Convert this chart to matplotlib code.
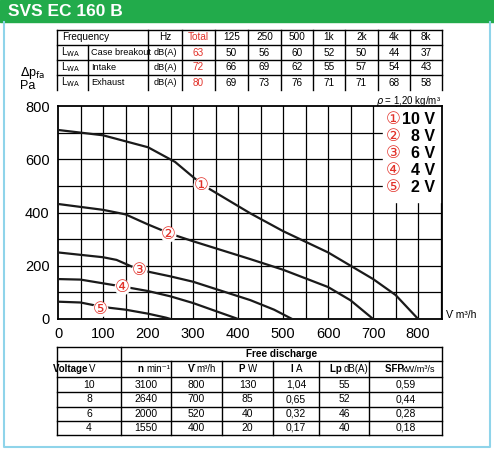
import matplotlib
matplotlib.use("Agg")
import matplotlib.pyplot as plt

plt.rcParams['font.family'] = ['Liberation Sans', 'DejaVu Sans']

# --- data ---
freq_cols = ["Hz", "Total", "125", "250", "500", "1k", "2k", "4k", "8k"]
row_names = ["Case breakout", "Intake", "Exhaust"]
case_breakout = ["dB(A)", "63", "50", "56", "60", "52", "50", "44", "37"]
intake = ["dB(A)", "72", "66", "69", "62", "55", "57", "54", "43"]
exhaust = ["dB(A)", "80", "69", "73", "76", "71", "71", "68", "58"]

curve_x = {
    "10 V": [0, 100, 200, 260, 320, 427, 500, 600, 700, 750, 800],
    "8 V": [0, 100, 150, 200, 250, 300, 427, 500, 600, 650, 700],
    "6 V": [0, 100, 130, 180, 250, 300, 427, 480, 520],
    "4 V": [0, 50, 150, 200, 250, 300, 400],
    "2 V": [0, 50, 100, 150, 200, 240, 250],
}
curve_y = {
    "10 V": [710, 690, 645, 590, 505, 397, 330, 250, 150, 90, 0],
    "8 V": [432, 410, 393, 355, 320, 292, 225, 185, 120, 70, 0],
    "6 V": [250, 232, 222, 185, 160, 140, 71, 35, 0],
    "4 V": [150, 148, 120, 105, 85, 60, 0],
    "2 V": [65, 62, 45, 35, 20, 5, 0],
}
label_pos = {"10 V": (318, 505), "8 V": (245, 320), "6 V": (180, 185),
             "4 V": (143, 120), "2 V": (94, 38)}

volt = ["10", "8", "6", "4"]
speed = ["3100", "2640", "2000", "1550"]
flow = ["800", "700", "520", "400"]
power = ["130", "85", "40", "20"]
current = ["1,04", "0,65", "0,32", "0,17"]
lp = ["55", "52", "46", "40"]
sfp = ["0,59", "0,44", "0,28", "0,18"]

W, H = 494, 451
fig = plt.figure(figsize=(W / 100, H / 100), dpi=100)
bg = fig.add_axes([0, 0, 1, 1])
bg.set_xlim(0, W); bg.set_ylim(H, 0); bg.axis('off')

red = '#e2332b'
bg.add_patch(plt.Rectangle((0, 0), W, 22, color='#22ab4b', zorder=1))
bg.text(8, 12, "SVS EC 160 B", color='white', fontsize=12.5, fontweight='bold', va='center')
bc = '#8fd4ea'
bg.plot([4, 4, 490, 490], [22, 447, 447, 22], color=bc, lw=1.5)

# top table
cols = [57, 148, 182, 215, 248, 281, 313, 345, 378, 410, 442]
rows = [30, 45, 60, 75, 90]
lw = 1.0
for y in rows[:-1]:
    bg.plot([57, 442], [y, y], color='k', lw=lw)
for x in cols:
    bg.plot([x, x], [30, 90], color='k', lw=lw)
bg.plot([88, 88], [45, 90], color='k', lw=lw)
fs = 7.2
bg.text(62, 37.5, "Frequency", fontsize=fs, va='center')
for i, c in enumerate(freq_cols):
    xc = (cols[i + 1] + cols[i + 2]) / 2
    bg.text(xc, 37.5, c, fontsize=fs, va='center', ha='center',
            color=red if c == "Total" else 'k')
for r, (name, vals) in enumerate(zip(row_names, [case_breakout, intake, exhaust])):
    yc = (rows[r + 1] + rows[r + 2]) / 2
    bg.text(61, yc, r"L$_{\rm WA}$", fontsize=fs, va='center')
    bg.text(91, yc, name, fontsize=6.6, va='center')
    for i, v in enumerate(vals):
        xc = (cols[i + 1] + cols[i + 2]) / 2
        bg.text(xc, yc, v, fontsize=6.6 if i == 0 else fs, va='center', ha='center',
                color=red if i == 1 else 'k')

bg.text(20, 73, r"$\Delta$p$_{\rm fa}$", fontsize=9, va='center')
bg.text(20, 86, "Pa", fontsize=9, va='center')
bg.text(441, 101, r"$\rho$ = 1,20 kg/m³", fontsize=7, va='center', ha='right')
bg.text(446, 315, r"V̇ m³/h", fontsize=7.5, va='center')

# chart
x0, x1, y0, y1 = 58, 442, 319, 106
ax = fig.add_axes([x0 / W, 1 - y0 / H, (x1 - x0) / W, (y0 - y1) / H])
ax.set_xlim(0, 853); ax.set_ylim(0, 800)
for xv in range(50, 851, 50):
    ax.axvline(xv, color='k', lw=0.9, zorder=1)
for yv in range(100, 800, 100):
    ax.axhline(yv, color='k', lw=0.9, zorder=1)
for s in ax.spines.values():
    s.set_linewidth(1.3)
ax.set_xticks(range(0, 801, 100))
ax.set_yticks(range(0, 801, 200))
ax.tick_params(length=0, labelsize=10.5, pad=6)
ax.add_patch(plt.Rectangle((722, 438), 131, 360, color='white', zorder=2))

circ = ["①", "②", "③", "④", "⑤"]
for i, k in enumerate(curve_x):
    ax.plot(curve_x[k], curve_y[k], color='#1a1a1a', lw=1.6, zorder=3)
    lx, ly = label_pos[k]
    ax.scatter([lx], [ly], s=110, facecolor='white', edgecolor='white', zorder=4)
    ax.text(lx, ly, circ[i], color=red, fontsize=12, ha='center', va='center',
            zorder=5, family=['DejaVu Sans'])
    yl = 750 - i * 64
    ax.text(745, yl, circ[i], color=red, fontsize=12, ha='center', va='center',
            zorder=5, family=['DejaVu Sans'])
    ax.text(838, yl, k, color='k', fontsize=11.5, fontweight='bold', ha='right',
            va='center', zorder=5)

# bottom table
bcols = [57, 121, 171, 222, 273, 319, 369, 442]
brows = [347, 361, 377, 392, 407, 421, 435]
for y in brows:
    bg.plot([57 if y != 347 else 57, 442], [y, y], color='k', lw=lw)
for x in bcols:
    bg.plot([x, x], [347 if x in (57, 121, 442) else brows[1], 435], color='k', lw=lw)
bg.text((121 + 442) / 2, 354, "Free discharge", fontsize=7.2, fontweight='bold',
        ha='center', va='center')
heads = [("Voltage", " V"), ("n", " min⁻¹"), ("V̇", " m³/h"), ("P", " W"),
         ("I", " A"), ("Lp", " dB(A)"), ("SFP", " kW/m³/s")]
for i, (b, n) in enumerate(heads):
    xc = (bcols[i] + bcols[i + 1]) / 2
    t = bg.text(xc, 369, b + "\u2009", fontsize=7, fontweight='bold', ha='right', va='center')
    bg.text(xc - (4 if i == 6 else 0), 369, n.strip(), fontsize=6.6 if i == 6 else 7,
            ha='left', va='center')
for r, vals in enumerate(zip(volt, speed, flow, power, current, lp, sfp)):
    yc = (brows[r + 2] + brows[r + 3]) / 2
    for i, v in enumerate(vals):
        xc = (bcols[i] + bcols[i + 1]) / 2
        bg.text(xc, yc, v, fontsize=7.5, ha='center', va='center')

fig.savefig("out.png", dpi=100)
